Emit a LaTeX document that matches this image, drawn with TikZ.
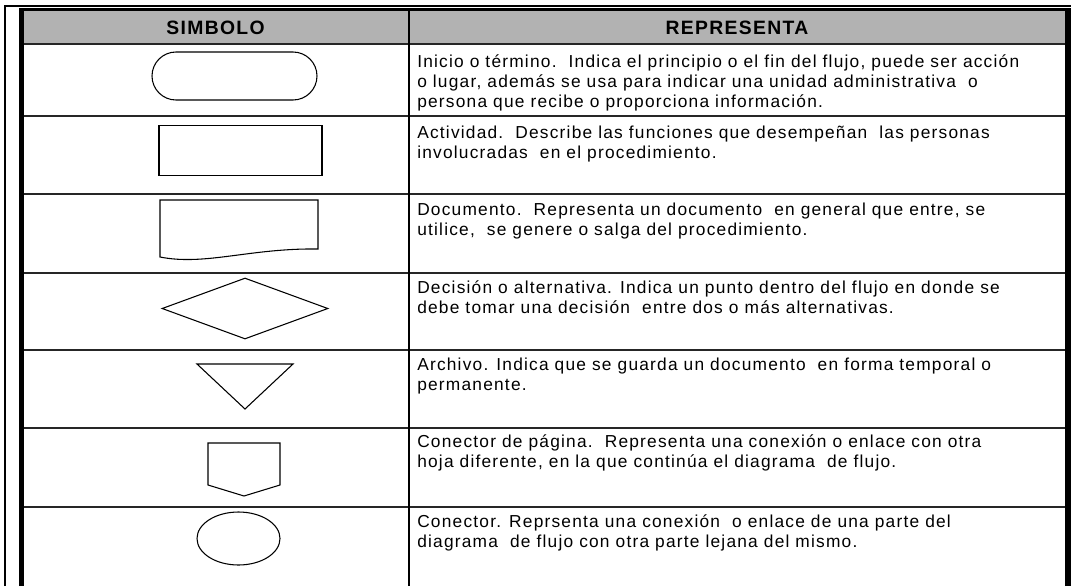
\documentclass[tikz,border=0pt]{standalone}
\usepackage{fontspec}
\setmainfont{Liberation Sans}[LetterSpace=7]
\usetikzlibrary{shapes.geometric,positioning}
\definecolor{grisencabezado}{RGB}{178,178,178}
\newcommand{\desctxt}[1]{\parbox[t]{560pt}{\raggedright #1}}
\begin{document}
\begin{tikzpicture}[
	x=0.75pt,% 1 px der Vorlage
	y=-0.75pt,
	auto,
	linea/.style={line width=1.1pt, black!85},
	borde/.style={line width=3.75pt},
	encabezado/.style={font=\fontsize{14.5}{16}\selectfont\bfseries, inner sep=0pt},
	desc/.style={anchor=base west, inner sep=0pt, font=\fontsize{13}{15}\selectfont},
	trazo/.style={line width=0.8pt},
	simbolo/.style={draw, trazo, inner sep=0pt}
]
\useasboundingbox (0,0) rectangle (1071,586);
%
% Rahmen und Kopfzeile
\fill[grisencabezado] (24,11) rectangle (1065,43);
\draw[line width=1.5pt] (5,586) -- (5,6) -- (1071,6);
\draw[line width=2.25pt] (21.5,9) -- (1071,9);
\draw[borde] (21.5,586) -- (21.5,8);
\draw[line width=4.5pt] (1068,586) -- (1068,8);
\foreach \y in {44,116,194,273,350,428,507}
    \draw[linea] (24,\y) -- (1065,\y);
\draw[line width=1.5pt] (409,11) -- (409,586);
%
\node(h_simbolo)%
    [encabezado]%
    at (215.5,28) {SIMBOLO};%
\node(h_representa)%
    [encabezado]%
    at (737,28) {REPRESENTA};%
%
% Symbole
\node(s_inicio)%
    [simbolo, rounded corners=18pt, minimum width=123.75pt, minimum height=36pt]%
    at (234.5,76) {};%
\node(s_actividad)%
    [simbolo, minimum width=122.25pt, minimum height=37.5pt]%
    at (240.5,150.5) {};%
\draw[trazo] (160,257) -- (160,200) -- (318,200) -- (318,249)
    .. controls (250,248) and (205,266) .. (160,257) -- cycle;
\node(s_decision)%
    [simbolo, diamond, minimum width=124.5pt, minimum height=45.75pt]%
    at (245,308.5) {};%
\draw[trazo] (197,364) -- (293,364) -- (245,409) -- cycle;
\draw[trazo] (208,443) -- (280,443) -- (280,485) -- (244,496) -- (208,485) -- cycle;
\node(s_conector)%
    [simbolo, ellipse, minimum width=62.25pt, minimum height=39.75pt]%
    at (238.5,538.5) {};%
%
% Beschreibungen
\node(d_inicio)%
    [desc]%
    at (417,67) {\desctxt{Inicio o término.\ \ Indica el principio o el fin del flujo, puede ser acción\\
    o lugar, además se usa para indicar una unidad administrativa\ \ o\\
    persona que recibe o proporciona información.}};%
\node(d_actividad)%
    [desc]%
    at (417,138) {\desctxt{Actividad.\ \ Describe las funciones que desempeñan\ \ las personas\\
    involucradas\ \ en el procedimiento.}};%
\node(d_documento)%
    [desc]%
    at (417,215) {\desctxt{Documento.\ \ Representa un documento\ \ en general que entre, se\\
    utilice,\ \ se genere o salga del procedimiento.}};%
\node(d_decision)%
    [desc]%
    at (417,293) {\desctxt{Decisión o alternativa. Indica un punto dentro del flujo en donde se\\
    debe tomar una decisión\ \ entre dos o más alternativas.}};%
\node(d_archivo)%
    [desc]%
    at (417,370) {\desctxt{Archivo. Indica que se guarda un documento\ \ en forma temporal o\\
    permanente.}};%
\node(d_pagina)%
    [desc]%
    at (417,447) {\desctxt{Conector de página.\ \ Representa una conexión o enlace con otra\\
    hoja diferente, en la que continúa el diagrama\ \ de flujo.}};%
\node(d_conector)%
    [desc]%
    at (417,527) {\desctxt{Conector. Reprsenta una conexión\ \ o enlace de una parte del\\
    diagrama\ \ de flujo con otra parte lejana del mismo.}};%
%
\end{tikzpicture}
\end{document}
